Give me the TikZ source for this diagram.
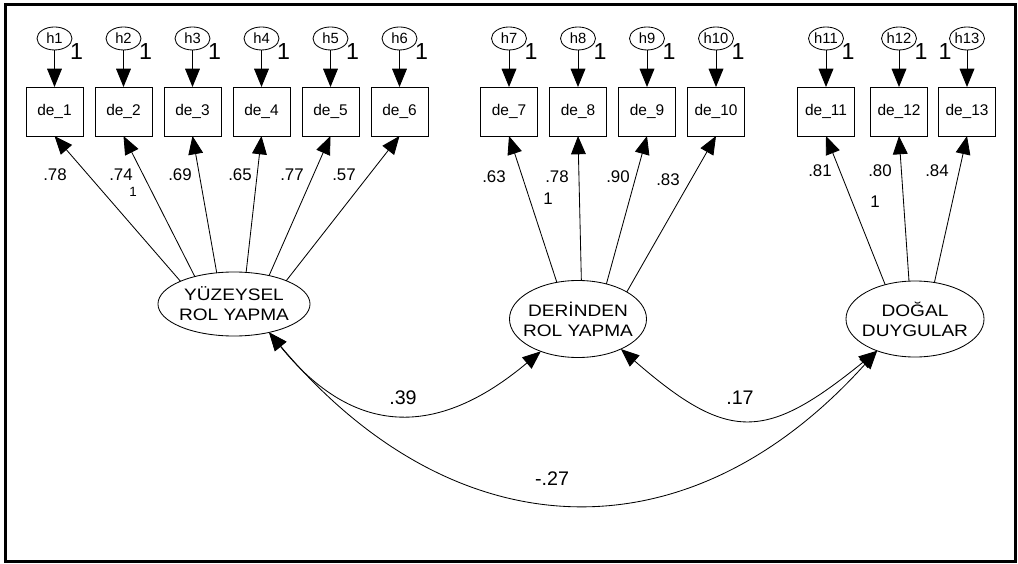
\documentclass[tikz,border=0pt]{standalone}
\usepackage{fontspec}
\setmainfont{Liberation Sans}
\newfontfamily\latentfont{Liberation Sans}[FakeStretch=1.15]
\usepackage{tikz}
\usetikzlibrary{positioning}
\usetikzlibrary{arrows.meta}
\usetikzlibrary{shapes.geometric}

\begin{document}
\begin{tikzpicture}[x=0.025cm, y=-0.025cm,
    >={Triangle[length=13pt,width=10.5pt]},
    every node/.style={inner sep=0pt, outer sep=0pt},
    conn/.style={line width=0.6pt},
    obs/.style={draw, rectangle, line width=0.6pt, minimum width=1.425cm, minimum height=1.225cm, font=\fontsize{11}{13}\selectfont},
    err/.style={draw, ellipse, line width=0.6pt, minimum width=0.875cm, minimum height=0.575cm, font=\fontsize{10.5}{12}\selectfont},
    lat/.style={draw, ellipse, line width=0.6pt, align=center, inner xsep=-15pt, font=\latentfont\fontsize{11.8}{14.2}\selectfont},
    one/.style={font=\fontsize{16.5}{18}\selectfont},
    est/.style={font=\fontsize{12}{14}\selectfont},
    cov/.style={font=\fontsize{14}{16}\selectfont}]
        \useasboundingbox (0,0) rectangle (1018,564);
        \draw[line width=2.1pt] (5.5,4.5) rectangle (1015.5,561.5);

        % nodes %
        \foreach \i/\x in {1/54.5,2/123.5,3/192.5,4/261.5,5/330.5,6/399.5,7/509,8/578,9/647,10/716,11/826,12/899,13/967}{
          \node[obs] (de\i) at (\x,111.5) {de\_\i};
          \node[err, above=0.925cm of de\i] (h\i) {h\i};
        }
        \foreach \i in {1,...,12}
          \node[one] (u\i) at ([shift={(22,13.5)}]h\i) {1};
        \node[one] (u13) at ([shift={(-22,13.5)}]h13) {1};

        \node[lat, minimum width=3.8cm, minimum height=1.6cm] (yuz) at (234,304) {YÜZEYSEL\\ROL YAPMA};
        \node[lat, minimum width=3.425cm, minimum height=1.925cm] (der) at (578,319) {DERİNDEN\\ROL YAPMA};
        \node[lat, minimum width=3.45cm, minimum height=1.9cm] (dog) at (915,319) {DOĞAL\\DUYGULAR};

        % estimates %
        \foreach \n/\x/\y/\t in {l1/55/175/.78, l2/121/175/.74, l3/180/175/.69, l4/240/175/.65, l5/292/175/.77, l6/344/175/.57,
                                  l7/494/177/.63, l8/557/177/.78, l9/618/177/.90, l10/668/180/.83,
                                  l11/820/171/.81, l12/880/171/.80, l13/937/171/.84}
          \node[est] (\n) at (\x,\y) {\t};
        \node[font=\fontsize{9.5}{11}\selectfont] (m1) at (133,192) {1};
        \node[est] (m2) at (548,199) {1};
        \node[est] (m3) at (875,202) {1};

        \node[cov] (c1) at (403,398) {.39};
        \node[cov] (c2) at (740,398) {.17};
        \node[cov] (c3) at (552,479) {-.27};

        % edges %
        \foreach \i in {1,...,13}
          \draw[->, conn] (h\i) -- (de\i);
        \foreach \i/\a in {1/157,2/145,3/119,4/69,5/39,6/24}
          \draw[->, conn] (yuz.\a) -- (de\i.south);
        \foreach \i/\a in {7/120,8/85,9/51,10/29}
          \draw[->, conn] (der.\a) -- (de\i.south);
        \foreach \i/\a in {11/131,12/99,13/62}
          \draw[->, conn] (dog.\a) -- (de\i.south);

        \draw[<->, conn] (yuz.-39) to[out=-51, in=-140, looseness=1.27] (der.-139);
        \draw[<->, conn] (der.-35) to[out=-41, in=-141, looseness=1.43] (dog.-140);
        \draw[<->, conn] (yuz.-39) to[out=-50, in=-132, looseness=1.2] (dog.-140);
      \end{tikzpicture}
\end{document}
